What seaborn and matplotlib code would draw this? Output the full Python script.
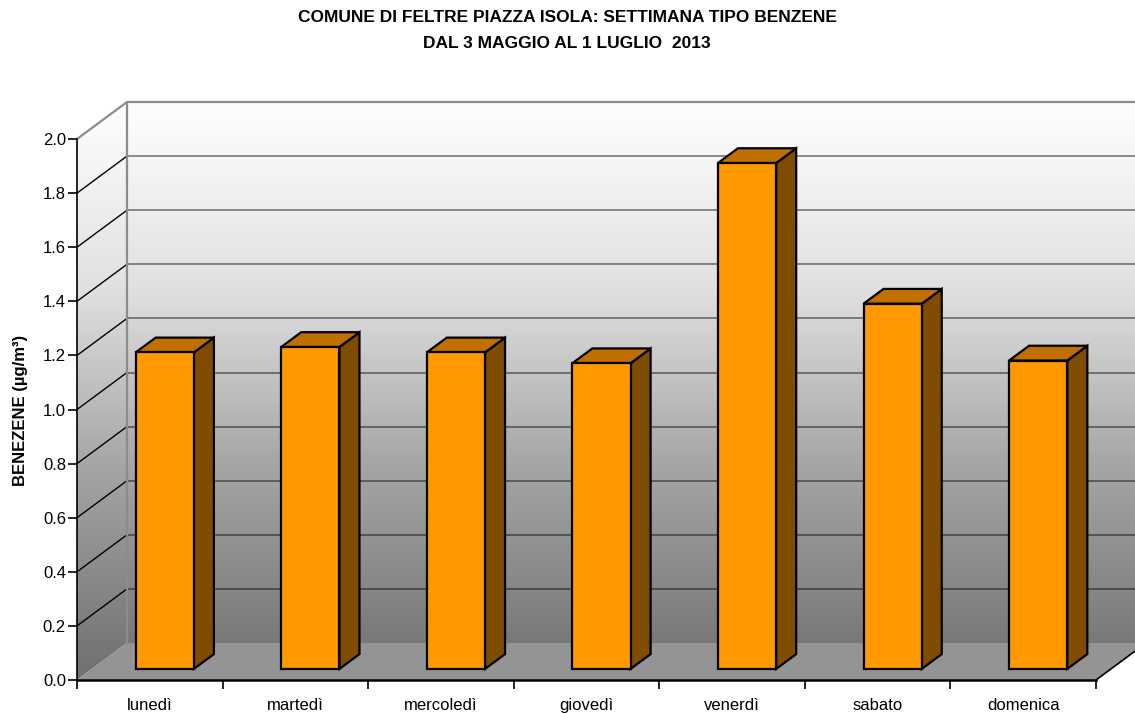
import numpy as np
import pandas as pd
import matplotlib
matplotlib.use("Agg")
import matplotlib.pyplot as plt
import seaborn as sns
from matplotlib.patches import Polygon

# ---- data ----
days = ["lunedì", "martedì", "mercoledì", "giovedì", "venerdì", "sabato", "domenica"]
values = [1.17, 1.19, 1.17, 1.13, 1.87, 1.35, 1.14]
yticks = [0.0, 0.2, 0.4, 0.6, 0.8, 1.0, 1.2, 1.4, 1.6, 1.8, 2.0]
title1 = "COMUNE DI FELTRE PIAZZA ISOLA: SETTIMANA TIPO BENZENE"
title2 = "DAL 3 MAGGIO AL 1 LUGLIO  2013"
ylabel = "BENEZENE (µg/m³)"

sns.set_theme(style="white")
plt.rcParams["font.family"] = ["Liberation Sans", "DejaVu Sans"]

W, H = 1135, 713
fig = plt.figure(figsize=(W / 100, H / 100), dpi=100)
px_cat = 145.57
px_unit = 270.5
ytop = 2.2
ax = fig.add_axes([77 / W, (H - 680) / H, 1 - 77 / W, ytop * px_unit / H])

# depth offsets of 3D projection (in data units)
DX = 50 / px_cat
DY = 37 / px_unit
f0, f1 = 0.3, 0.7  # bar depth position

df = pd.DataFrame({"day": days, "value": values})
sns.barplot(data=df, x="day", y="value", width=0.4, color="#FF9900",
            saturation=1, edgecolor="black", linewidth=1.6, ax=ax, zorder=5)
bars = list(ax.patches)

for b in bars:
    x0 = b.get_x() + f0 * DX
    b.set_x(x0)
    b.set_y(f0 * DY)
    w = b.get_width()
    h = b.get_height()
    x1 = x0 + w
    bot = f0 * DY
    top = bot + h
    bdx = (f1 - f0) * DX
    bdy = (f1 - f0) * DY
    side = Polygon([(x1, bot), (x1 + bdx, bot + bdy), (x1 + bdx, top + bdy), (x1, top)],
                   closed=True, facecolor="#7F4C00", edgecolor="black", lw=1.6, zorder=4)
    topf = Polygon([(x0, top), (x1, top), (x1 + bdx, top + bdy), (x0 + bdx, top + bdy)],
                   closed=True, facecolor="#C07000", edgecolor="black", lw=1.6, zorder=4)
    ax.add_patch(side)
    ax.add_patch(topf)

n = len(days)
xl, xr = -0.5, n - 0.5

# gradient walls
g = np.linspace(0, 2.3, 256)
grey = np.interp(g, [0, 0.137, 0.21, 0.82, 1.44, 2.07, 2.3],
                 [112, 120, 126, 168, 224, 252, 255]) / 255.0
grad = np.dstack([grey, grey, grey]).reshape(256, 1, 3)
ax.imshow(grad, extent=(xl + DX, xr + DX, 0, 2.3), origin="lower", aspect="auto", zorder=0)
ax.imshow(grad, extent=(xl, xl + DX, 0, 2.3), origin="lower", aspect="auto", zorder=0.5,
          clip_path=Polygon([(xl, 0), (xl + DX, DY), (xl + DX, 2 + DY), (xl, 2)],
                            transform=ax.transData))
# clip back wall top
ax.add_patch(Polygon([(xl, 2 + DY), (xr + 1, 2 + DY), (xr + 1, 3), (xl, 3)],
                     facecolor="white", edgecolor="none", zorder=0.6))
ax.add_patch(Polygon([(xl, 2), (xl + DX, 2 + DY), (xl, 2 + DY)],
                     facecolor="white", edgecolor="none", zorder=0.6))
# floor
ax.add_patch(Polygon([(xl, 0), (xr, 0), (xr + DX, DY), (xl + DX, DY)],
                     facecolor="#949494", edgecolor="none", zorder=0.7))
ax.add_patch(Polygon([(xr, 0), (xr + 1, 0), (xr + 1, DY), (xr + DX, DY)],
                     facecolor="white", edgecolor="none", zorder=0.8))

# gridlines
for v in yticks[1:]:
    ax.plot([xl + DX, xr + DX], [v + DY, v + DY], color="black", alpha=0.55, lw=1.1, zorder=1)
    ax.plot([xl, xl + DX], [v, v + DY], color="black", lw=1.0, zorder=1,
            alpha=1 if v < 2 else 0.0)
# wall borders
ax.plot([xl, xl + DX, xl + DX], [2, 2 + DY, DY], color="#8c8c8c", lw=1.6, zorder=1.2)
ax.plot([xl + DX, xr + DX], [2 + DY, 2 + DY], color="#8c8c8c", lw=1.6, zorder=1.2)
ax.plot([xr, xr + DX], [0, DY], color="black", lw=1.2, zorder=1.2)

ax.set_xlim(xl, -0.5 + (W - 77) / px_cat)
ax.set_ylim(0, ytop)

for s in ["top", "right"]:
    ax.spines[s].set_visible(False)
ax.spines["left"].set_bounds(0, 2)
ax.spines["bottom"].set_bounds(xl, xr)
ax.spines["left"].set_color("black")
ax.spines["bottom"].set_color("black")
ax.spines["left"].set_linewidth(1.2)
ax.spines["bottom"].set_linewidth(1.8)
ax.spines["left"].set_zorder(6)
ax.spines["bottom"].set_zorder(6)

ax.set_yticks(yticks)
ax.set_yticklabels([f"{v:.1f}" for v in yticks])
ax.set_xticks(range(n))
ax.set_xticklabels(days)
ax.set_xticks(np.arange(n + 1) - 0.5, minor=True)
ax.tick_params(axis="x", which="major", bottom=True, length=0, pad=13, labelsize=12, colors="black")
ax.tick_params(axis="x", which="minor", bottom=True, length=6.5, width=1.2, color="black")
ax.tick_params(axis="y", which="major", left=True, length=6.5, width=1.2, pad=1.5,
               labelsize=12, colors="black")
ax.set_xlabel("")
ax.set_ylabel(ylabel, fontsize=12, fontweight="bold", color="black")
ax.yaxis.set_label_coords((28 - 77) / (W - 77), (680 - 410) / (ytop * px_unit))
ax.grid(False)

fig.text(567 / W, 1 - 18 / H, title1, ha="center", va="center", fontsize=12.5,
         fontweight="bold", color="black")
fig.text(567 / W, 1 - 44 / H, title2, ha="center", va="center", fontsize=12.5,
         fontweight="bold", color="black")

fig.savefig("out.png", dpi=100)
